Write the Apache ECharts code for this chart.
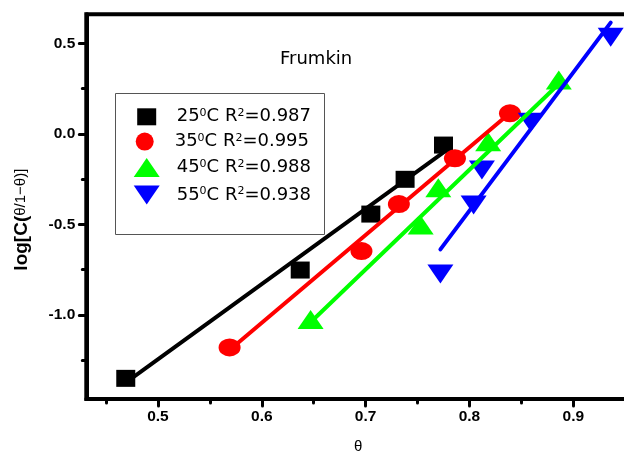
<!DOCTYPE html>
<html>
<head>
<meta charset="utf-8">
<script src="https://cdn.jsdelivr.net/npm/echarts@6/dist/echarts.min.js"></script>
<style>
  html, body { margin: 0; padding: 0; background: #fff; }
  #chart { width: 624px; height: 451px; }
</style>
</head>
<body>
<div id="chart"></div>
<script>
// Frumkin isotherm: log[C(θ/1−θ)] versus surface coverage θ at four temperatures
const temps = ['25', '35', '45', '55'];
const r2 = ['0.987', '0.995', '0.988', '0.938'];

const theta25 = [0.469, 0.637, 0.705, 0.738, 0.775];
const log25   = [-1.350, -0.752, -0.443, -0.251, -0.062];
const theta35 = [0.569, 0.696, 0.732, 0.786, 0.839];
const log35   = [-1.179, -0.647, -0.388, -0.135, 0.113];
const theta45 = [0.647, 0.753, 0.770, 0.818, 0.886];
const log45   = [-1.025, -0.503, -0.298, -0.044, 0.297];
const theta55 = [0.772, 0.804, 0.812, 0.859, 0.936];
const log55   = [-0.774, -0.393, -0.200, 0.064, 0.533];

// linear fit end points for each temperature
const fitTheta25 = [0.469, 0.775];
const fitLog25   = [-1.373, -0.103];
const fitTheta35 = [0.569, 0.839];
const fitLog35   = [-1.194, 0.115];
const fitTheta45 = [0.647, 0.886];
const fitLog45   = [-1.040, 0.275];
const fitTheta55 = [0.772, 0.936];
const fitLog55   = [-0.638, 0.614];

const xTicks = [0.5, 0.6, 0.7, 0.8, 0.9];
const xMinorTicks = [0.45, 0.55, 0.65, 0.75, 0.85, 0.95];
const yTicks = [-1.0, -0.5, 0.0, 0.5];
const yMinorTicks = [-1.25, -0.75, -0.25, 0.25];

const X_MIN = 0.431, X_MAX = 0.97, Y_MIN = -1.464, Y_MAX = 0.66;

const thetas = [theta25, theta35, theta45, theta55];
const logs = [log25, log35, log45, log55];
const fitThetas = [fitTheta25, fitTheta35, fitTheta45, fitTheta55];
const fitLogs = [fitLog25, fitLog35, fitLog45, fitLog55];

const colors = ['#000000', '#ff0000', '#00ff00', '#0000ff'];
const symbols = ['rect', 'circle', 'triangle', 'triangle'];
const rotations = [0, 0, 0, 180];
const legendIcons = ['rect', 'circle', 'triangle', 'path://M0,0L26,0L13,19Z'];
const sizes = [[19, 17], [22, 18], [26, 19], [26, 19]];
const legendRows = [116.3, 141.6, 167.6, 195];

const names = temps.map((t, i) => t + '⁰C R²=' + r2[i]);
const zip = (a, b) => a.map((v, i) => [v, b[i]]);

const series = [];
temps.forEach((t, i) => {
  series.push({
    type: 'line',
    name: 'fit ' + t,
    data: zip(fitThetas[i], fitLogs[i]),
    symbol: 'none',
    silent: true,
    lineStyle: { color: colors[i], width: 4, cap: 'round' }
  });
  series.push({
    type: 'scatter',
    name: names[i],
    data: zip(thetas[i], logs[i]),
    symbol: symbols[i],
    symbolRotate: rotations[i],
    symbolSize: sizes[i],
    itemStyle: { color: colors[i], opacity: 1 }
  });
});

const legends = temps.map((t, i) => ({
  data: [{ name: names[i], icon: legendIcons[i] }],
  left: 146.7 - sizes[i][0] / 2,
  top: legendRows[i] - sizes[i][1] / 2,
  padding: 0,
  itemWidth: sizes[i][0],
  itemHeight: sizes[i][1],
  symbolRotate: 0,
  selectedMode: false,
  formatter: () => t + '{sup|0}C R{sup|2}=' + r2[i],
  textStyle: {
    fontFamily: 'DejaVu Sans',
    fontSize: 18,
    lineHeight: 18,
    color: '#000',
    padding: [0, 0, 0, 25 - sizes[i][0] / 2],
    rich: {
      sup: { fontFamily: 'DejaVu Sans', fontSize: 11, lineHeight: 18, verticalAlign: 'top', color: '#000' }
    }
  }
}));

const tickLabel = {
  fontFamily: 'Liberation Sans',
  fontWeight: 'bold',
  fontSize: 15.5,
  color: '#000'
};

const chart = echarts.init(document.getElementById('chart'), null, { renderer: 'canvas' });
chart.setOption({
  animation: false,
  backgroundColor: '#fff',
  title: {
    text: 'Frumkin',
    left: 280,
    top: 50,
    padding: 0,
    textStyle: { fontFamily: 'DejaVu Sans', fontSize: 18, fontWeight: 'normal', color: '#000' }
  },
  legend: legends,
  graphic: [{
    type: 'rect',
    shape: { x: 115.5, y: 93.5, width: 209, height: 141 },
    style: { fill: 'none', stroke: '#555', lineWidth: 1 },
    z: 10
  }],
  grid: {
    left: 86.3, top: 14.3, width: 559.7, height: 384.7,
    outerBoundsMode: 'none',
    show: true, borderColor: '#000', borderWidth: 4, backgroundColor: 'transparent'
  },
  xAxis: [{
    type: 'value', min: X_MIN, max: X_MAX, position: 'bottom',
    axisLine: { show: true, onZero: false, lineStyle: { color: '#000', width: 4 } },
    axisTick: { customValues: xTicks, length: 7, lineStyle: { color: '#000', width: 3, cap: 'round' } },
    axisLabel: Object.assign({ customValues: xTicks, margin: 10, formatter: v => v.toFixed(1) }, tickLabel),
    splitLine: { show: false },
    name: 'θ', nameLocation: 'middle', nameGap: 40,
    nameTextStyle: { fontFamily: 'Liberation Sans', fontSize: 15, color: '#000', padding: [0, 16, 0, 0] }
  }, {
    type: 'value', min: X_MIN, max: X_MAX, position: 'bottom',
    axisLine: { show: false, onZero: false },
    axisTick: { customValues: xMinorTicks, length: 4, lineStyle: { color: '#000', width: 3, cap: 'round' } },
    axisLabel: { show: false },
    splitLine: { show: false }
  }],
  yAxis: [{
    type: 'value', min: Y_MIN, max: Y_MAX, position: 'left',
    axisLine: { show: true, onZero: false, lineStyle: { color: '#000', width: 4 } },
    axisTick: { customValues: yTicks, length: 7, lineStyle: { color: '#000', width: 3, cap: 'round' } },
    axisLabel: Object.assign({ customValues: yTicks, margin: 11, formatter: v => v.toFixed(1) }, tickLabel),
    splitLine: { show: false },
    name: '{b|log[C(}{s|θ/1−θ)]}', nameLocation: 'middle', nameRotate: 90, nameGap: 54,
    nameTextStyle: {
      padding: [0, 26, 0, 0],
      rich: {
        b: { fontFamily: 'Liberation Sans', fontWeight: 'bold', fontSize: 19, lineHeight: 22, verticalAlign: 'middle', color: '#000' },
        s: { fontFamily: 'Liberation Sans', fontSize: 15, lineHeight: 22, verticalAlign: 'middle', color: '#000' }
      }
    }
  }, {
    type: 'value', min: Y_MIN, max: Y_MAX, position: 'left',
    axisLine: { show: false, onZero: false },
    axisTick: { customValues: yMinorTicks, length: 4, lineStyle: { color: '#000', width: 3, cap: 'round' } },
    axisLabel: { show: false },
    splitLine: { show: false }
  }],
  series: series
});
</script>
</body>
</html>
